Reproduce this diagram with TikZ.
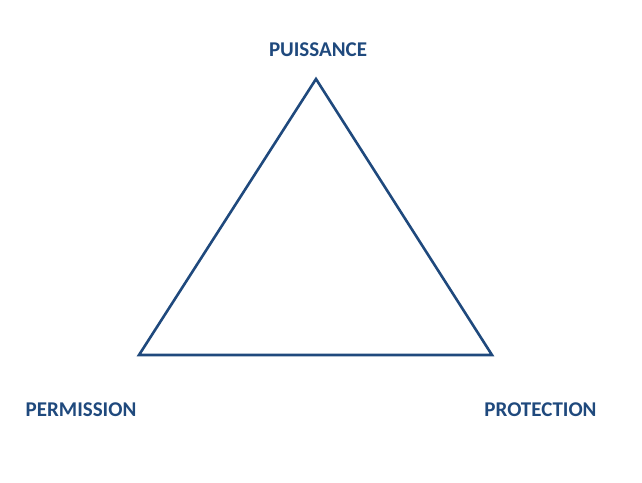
\documentclass[tikz,border=0pt]{standalone}
\usepackage{fontspec}
\setmainfont{Carlito}
\definecolor{darkblue}{RGB}{31,73,125}
\tikzset{
    x=1pt, y=-1pt, % one unit is one pixel of the page
    corner label/.style={text=darkblue, font=\fontsize{21}{25}\selectfont\bfseries, inner sep=0pt}, % the three words
    side/.style={draw=darkblue, line width=2.6pt, line join=miter}, % the triangle
}
\begin{document}
\begin{tikzpicture}
    \useasboundingbox (0,0) rectangle (642,482);
    \coordinate (top) at (316,79);
    \coordinate (bl) at (139,355);
    \coordinate (br) at (492,355);

    \node[corner label] (puissance) at (318,49.5) {PUISSANCE};
    \node[corner label] (permission) at (81,409.5) {PERMISSION};
    \node[corner label] (protection) at (540.5,409.5) {PROTECTION};

    \draw[side] (top) -- (bl) -- (br) -- cycle;
\end{tikzpicture}
\end{document}
